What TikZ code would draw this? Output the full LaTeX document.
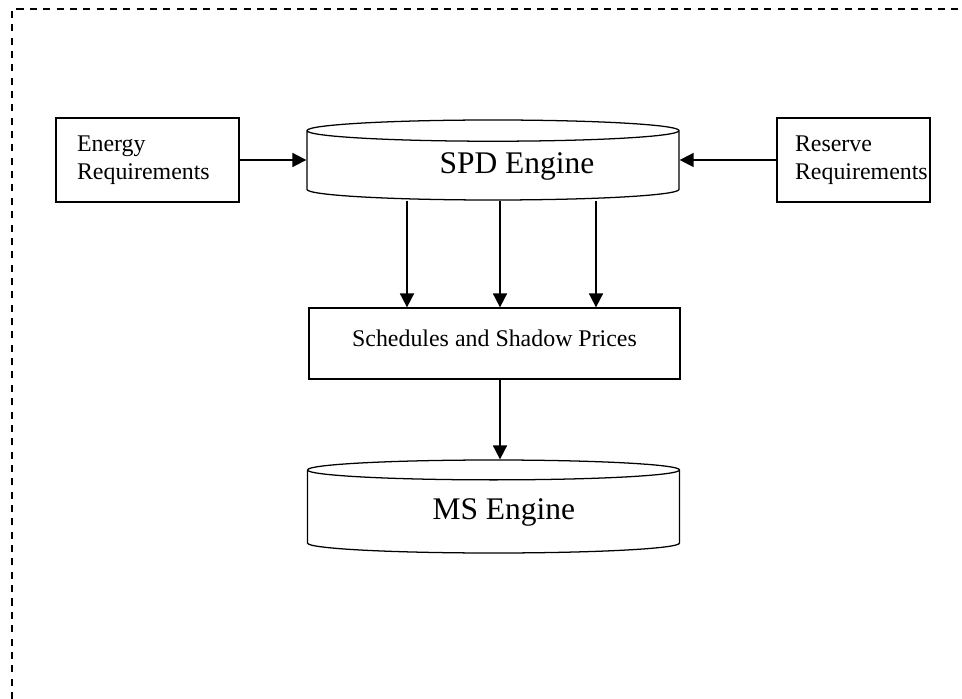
\documentclass[tikz,border=0pt]{standalone}
\usepackage{fontspec}
\setmainfont{Liberation Serif}
\usepackage{tikz}
\usetikzlibrary{positioning}
\usetikzlibrary{calc}
\usetikzlibrary{shapes.geometric}
\usetikzlibrary{arrows.meta}

\begin{document}
\begin{tikzpicture}[
  reqbox/.style={draw, line width=0.9pt, minimum height=2.1cm, align=left, font=\fontsize{17}{19.6}\selectfont},
  engine/.style={draw, line width=0.9pt, cylinder, shape border rotate=90, anchor=shape center, minimum width=9.3cm, font=\fontsize{22.4}{26}\selectfont},
  pricebox/.style={draw, line width=0.9pt, minimum width=9.275cm, minimum height=1.775cm, text depth=0.27cm, font=\fontsize{17}{19.6}\selectfont},
  arr/.style={line width=1.3pt, -{Triangle[length=0.35cm, width=0.35cm]}}
]
\useasboundingbox (0,0) rectangle (24.05,-17.475);

% outer frame
\draw [dash pattern=on 5pt off 4.5pt, line width=1pt] (0.3,-17.475) -- (0.3,-0.225) -- (24.05,-0.225);

\node [engine, aspect=0.1, minimum height=2cm] (spd) at (12.325,-4) {\hspace{1.2cm}SPD Engine};
\node [reqbox, text width=3.525cm, inner xsep=0.525cm] (energy) at (3.6875,-4) {Energy\\Requirements};
\node [reqbox, text width=2.925cm, inner xsep=0.45cm] (reserve) at (21.3375,-4) {Reserve\\Requirements};

\node [pricebox] (sched) at (12.3625,-8.5875) {Schedules and Shadow Prices};
\node [engine, aspect=0.115, minimum height=2.325cm] (ms) at (12.3375,-12.6625) {\hspace{0.52cm}MS Engine};

\draw [arr] (energy.east) -- (energy.east -| spd.west);
\draw [arr] (reserve.west) -- (reserve.west -| spd.east);

\draw [arr] ([xshift=-2.15cm]spd.south) -- ([xshift=-2.15cm]spd.south |- sched.north);
\draw [arr] ([xshift=0.175cm]spd.south) -- ([xshift=0.175cm]spd.south |- sched.north);
\draw [arr] ([xshift=2.575cm]spd.south) -- ([xshift=2.575cm]spd.south |- sched.north);

\draw [arr] ([xshift=0.1375cm]sched.south) -- ([xshift=0.1375cm]sched.south |- ms.north);

\end{tikzpicture}
\end{document}
